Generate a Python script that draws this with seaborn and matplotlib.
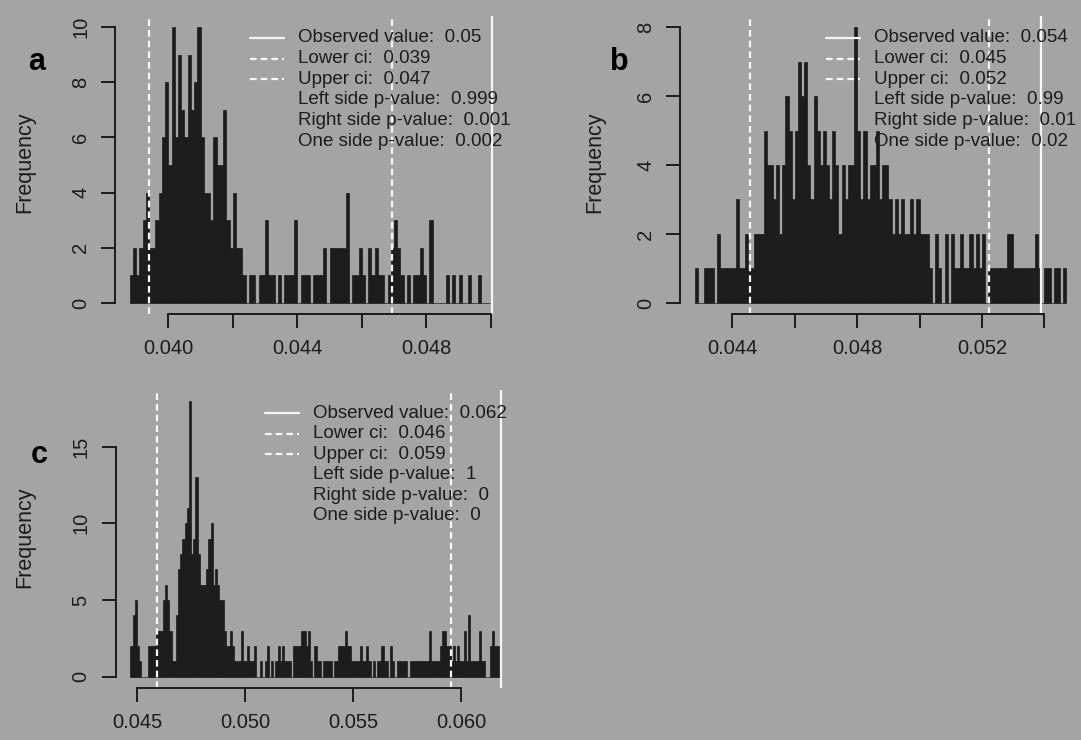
import numpy as np
import pandas as pd
import matplotlib
matplotlib.use('Agg')
import matplotlib.pyplot as plt
import seaborn as sns

# bootstrap histograms, bin width 0.0001 (counts)
bin_w = 0.0001

a_start = 0.0388
a_counts = [1, 2, 1, 2, 3, 4, 2, 2, 3, 4,
            6, 8, 5, 10, 6, 9, 7, 6, 9, 7,
            8, 10, 6, 4, 4, 3, 6, 5, 5, 7,
            3, 2, 4, 2, 2, 1, 0, 1, 1, 0,
            1, 1, 3, 1, 1, 0, 1, 0, 1, 1,
            1, 3, 0, 1, 1, 1, 0, 1, 1, 1,
            2, 0, 2, 2, 2, 2, 2, 4, 0, 1,
            1, 2, 1, 0, 2, 1, 2, 1, 1, 0,
            1, 2, 3, 2, 1, 0, 1, 0, 1, 1,
            2, 1, 0, 3, 0, 0, 0, 0, 1, 0,
            1, 0, 1, 0, 0, 1, 0, 0, 1, 0,
            0, 0]
a_lines = [0.05005, 0.03941, 0.04694]   # observed, lower ci, upper ci
a_xticks = [0.040, 0.042, 0.044, 0.046, 0.048, 0.050]
a_xlabels = ['0.040', '', '0.044', '', '0.048', '']
a_yticks = [0, 2, 4, 6, 8, 10]
a_legend = ['Observed value:  0.05', 'Lower ci:  0.039', 'Upper ci:  0.047',
            'Left side p-value:  0.999', 'Right side p-value:  0.001',
            'One side p-value:  0.002']

b_start = 0.0428
b_counts = [1, 0, 0, 1, 1, 1, 0, 2, 1, 1,
            1, 1, 1, 3, 1, 1, 2, 1, 1, 2,
            2, 2, 5, 4, 4, 3, 4, 2, 4, 6,
            5, 3, 5, 7, 6, 7, 4, 3, 6, 5,
            4, 5, 4, 3, 5, 4, 2, 4, 3, 4,
            4, 8, 5, 3, 5, 3, 4, 4, 5, 3,
            4, 4, 3, 2, 3, 2, 3, 2, 2, 3,
            2, 3, 2, 2, 2, 1, 0, 2, 1, 0,
            2, 0, 2, 1, 1, 2, 1, 1, 2, 1,
            2, 1, 2, 0, 1, 1, 1, 1, 1, 1,
            2, 2, 1, 1, 1, 1, 1, 1, 1, 2,
            1, 0, 1, 1, 0, 1, 1, 0, 1]
b_lines = [0.05388, 0.04456, 0.05223]
b_xticks = [0.044, 0.046, 0.048, 0.050, 0.052, 0.054]
b_xlabels = ['0.044', '', '0.048', '', '0.052', '']
b_yticks = [0, 2, 4, 6, 8]
b_legend = ['Observed value:  0.054', 'Lower ci:  0.045', 'Upper ci:  0.052',
            'Left side p-value:  0.99', 'Right side p-value:  0.01',
            'One side p-value:  0.02']

c_start = 0.0447
c_counts = [2, 4, 5, 2, 1, 0, 0, 0, 2, 2,
            2, 2, 3, 3, 3, 5, 6, 5, 3, 1,
            1, 4, 7, 8, 9, 10, 11, 18, 8, 9,
            13, 8, 6, 6, 6, 7, 9, 10, 6, 7,
            6, 5, 5, 3, 2, 2, 3, 2, 1, 1,
            1, 3, 1, 1, 2, 1, 1, 2, 0, 0,
            1, 0, 1, 2, 0, 1, 0, 1, 2, 1,
            2, 1, 1, 1, 0, 2, 2, 2, 2, 3,
            3, 2, 3, 1, 0, 2, 1, 1, 0, 1,
            1, 1, 1, 0, 1, 1, 2, 2, 2, 3,
            2, 2, 1, 1, 1, 1, 2, 1, 1, 2,
            1, 0, 1, 0, 1, 1, 2, 1, 1, 0,
            2, 1, 0, 1, 1, 1, 1, 1, 0, 1,
            1, 1, 1, 1, 1, 1, 1, 1, 3, 1,
            1, 1, 1, 2, 3, 3, 2, 2, 1, 2,
            1, 2, 1, 1, 3, 1, 4, 1, 1, 1,
            1, 3, 1, 1, 0, 0, 2, 3, 2, 2,
            2]
c_lines = [0.06183, 0.04593, 0.05953]
c_xticks = [0.045, 0.050, 0.055, 0.060]
c_xlabels = ['0.045', '0.050', '0.055', '0.060']
c_yticks = [0, 5, 10, 15]
c_legend = ['Observed value:  0.062', 'Lower ci:  0.046', 'Upper ci:  0.059',
            'Left side p-value:  1', 'Right side p-value:  0',
            'One side p-value:  0']

BG = '#a4a4a4'
DARK = '#1c1c1c'
WHITE = '#f6f6f6'
W, H = 1081, 740

sns.set_theme(style='ticks', rc={'figure.facecolor': BG, 'axes.facecolor': BG,
                                 'savefig.facecolor': BG})
plt.rcParams['font.family'] = ['Liberation Sans', 'DejaVu Sans']

fig = plt.figure(figsize=(W / 100, H / 100), dpi=100)


def px(x, y):
    return x / W, 1 - y / H


def panel(rect, start, counts, lines, xticks, xlabels, yticks, legend,
          leg_x, leg_y, letter, letter_xy, freq_xy):
    ax = fig.add_axes(rect)
    n = len(counts)
    end = start + n * bin_w
    df = pd.DataFrame({'x': start + bin_w * (np.arange(n) + 0.5),
                       'n': counts})
    sns.histplot(data=df, x='x', weights='n', binwidth=bin_w,
                 binrange=(start, end), color=DARK, edgecolor=DARK,
                 linewidth=0.5, alpha=1, ax=ax)

    rng = end - start
    ymax = max(counts)
    ax.set_xlim(start - 0.04 * rng, end + 0.04 * rng)
    ax.set_ylim(-0.04 * ymax, ymax * 1.04)

    # observed value and confidence limits
    ax.axvline(lines[0], color=WHITE, lw=1.6)
    for v in lines[1:]:
        ax.axvline(v, color=WHITE, lw=1.6, dashes=(3, 1.8))

    # R style axes
    for s in ['top', 'right']:
        ax.spines[s].set_visible(False)
    for s in ['left', 'bottom']:
        ax.spines[s].set_color(DARK)
        ax.spines[s].set_linewidth(1.4)
    ax.spines['left'].set_bounds(yticks[0], yticks[-1])
    ax.spines['bottom'].set_bounds(xticks[0], xticks[-1])
    ax.set_xticks(xticks)
    ax.set_xticklabels(xlabels, fontsize=14.5)
    ax.set_yticks(yticks)
    ax.set_yticklabels([str(v) for v in yticks], rotation=90, va='center',
                       fontsize=14.5)
    ax.tick_params(direction='out', length=10, width=1.4, color=DARK,
                   labelcolor=DARK)
    ax.tick_params(axis='x', pad=8)
    ax.tick_params(axis='y', pad=8)
    ax.set_xlabel('')
    ax.set_ylabel('')

    fig.text(*px(*freq_xy), 'Frequency', rotation=90, ha='center',
             va='center', fontsize=15.5, color=DARK)
    fig.text(*px(*letter_xy), letter, ha='left', va='baseline',
             fontsize=22, fontweight='bold', color='black')

    # legend, white line samples
    styles = ['solid', 'dashed', 'dashed', None, None, None]
    for i, (txt, st) in enumerate(zip(legend, styles)):
        y = leg_y + i * 20.6
        if st == 'solid':
            fig.add_artist(plt.Line2D([leg_x / W, (leg_x + 34) / W],
                                      [1 - y / H] * 2, color=WHITE, lw=1.6))
        elif st == 'dashed':
            fig.add_artist(plt.Line2D([leg_x / W, (leg_x + 34) / W],
                                      [1 - y / H] * 2, color=WHITE, lw=1.6,
                                      dashes=(3, 1.8)))
        fig.text(*px(leg_x + 48, y), txt, ha='left', va='center',
                 fontsize=13.5, color=DARK)
    return ax


panel([115.2 / W, 1 - 314 / H, 390 / W, 298 / H], a_start, a_counts, a_lines,
      a_xticks, a_xlabels, a_yticks, a_legend, 250, 38, 'a', (28, 70), (25, 162))
panel([680.2 / W, 1 - 314 / H, 1 - 680.2 / W, 298 / H], b_start, b_counts,
      b_lines, b_xticks, b_xlabels, b_yticks, b_legend, 826, 38, 'b',
      (610, 70), (595, 162))
panel([115.7 / W, 1 - 687.7 / H, 399.5 / W, 298 / H], c_start, c_counts,
      c_lines, c_xticks, c_xlabels, c_yticks, c_legend, 265, 413, 'c',
      (31, 463), (25, 537))

fig.savefig('out.png', dpi=100, facecolor=BG)
